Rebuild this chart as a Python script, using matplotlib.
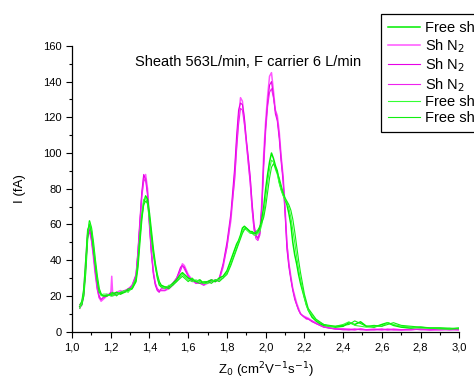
import matplotlib
matplotlib.use("Agg")
import matplotlib.pyplot as plt
from matplotlib.ticker import MultipleLocator, FuncFormatter

plt.rcParams['font.family'] = ['Liberation Sans', 'DejaVu Sans']

# Mobility grid (shared by all scans)
z = [1.04, 1.05, 1.06, 1.07, 1.08, 1.09, 1.10, 1.11, 1.12, 1.13, 1.14, 1.15, 1.16,
     1.18, 1.20, 1.205, 1.21, 1.23, 1.25, 1.27, 1.29, 1.31, 1.33,
     1.34, 1.35, 1.36, 1.37, 1.38, 1.39, 1.40, 1.41, 1.42, 1.43, 1.44, 1.45, 1.46,
     1.48, 1.50, 1.52, 1.54, 1.56, 1.57, 1.58, 1.60, 1.62, 1.64, 1.66, 1.68, 1.70,
     1.72, 1.74, 1.76, 1.78, 1.80, 1.82, 1.84,
     1.85, 1.86, 1.87, 1.88, 1.89, 1.90, 1.91, 1.92, 1.93, 1.94,
     1.95, 1.96, 1.97, 1.98, 1.99, 2.00, 2.01, 2.02, 2.03, 2.04,
     2.05, 2.06, 2.07, 2.08, 2.09, 2.10, 2.11, 2.12, 2.13, 2.14,
     2.15, 2.16, 2.17, 2.18, 2.19, 2.20, 2.21, 2.22,
     2.24, 2.26, 2.28, 2.30, 2.33, 2.36, 2.40, 2.43, 2.46, 2.49,
     2.52, 2.56, 2.60, 2.63, 2.66, 2.70, 2.75, 2.80, 2.85, 2.90, 2.95, 3.00]

# Free sheath scans (green)
free1 = [14, 15, 20, 33, 52, 62, 58, 50, 40, 31, 24, 21, 20,
         20, 21, 20, 21, 22, 21, 22, 23, 24, 28,
         36, 50, 63, 72, 76, 74, 66, 56, 46, 38, 32, 28, 26,
         25, 25, 27, 29, 32, 33, 32, 30, 29, 28, 29, 27, 28, 29, 28, 30, 31, 34, 40, 46,
         49, 51, 54, 58, 59, 58, 57, 56, 56, 55,
         55, 56, 58, 63, 70, 80, 88, 95, 100, 97,
         93, 90, 84, 80, 77, 74, 71, 66, 60, 50,
         43, 38, 32, 27, 23, 19, 15, 12,
         8, 6, 4.5, 3.5, 3, 2.5, 3, 5, 4, 5.5,
         3, 2.5, 4, 5, 3.5, 2.5, 2, 2.5, 2, 2, 1.5, 2]
free2 = [13, 16, 22, 36, 55, 61, 57, 48, 38, 29, 23, 20, 21,
         21, 20, 22, 20, 21, 22, 23, 22, 25, 30,
         40, 54, 66, 74, 75, 71, 62, 52, 43, 36, 31, 27, 25,
         24, 26, 26, 28, 31, 32, 31, 29, 28, 29, 28, 27, 27, 28, 29, 29, 30, 33, 38, 44,
         47, 50, 53, 56, 58, 57, 56, 55, 55, 54,
         54, 55, 56, 60, 66, 75, 84, 91, 96, 95,
         91, 88, 83, 79, 76, 74, 72, 69, 64, 57,
         50, 42, 35, 29, 24, 19, 15, 12,
         9, 6.5, 5, 4, 3, 3, 4, 5.5, 3.5, 3,
         2.5, 3, 3, 5, 4, 3, 2.5, 2, 2, 1.5, 1.5, 2]
free3 = [15, 17, 24, 40, 57, 60, 55, 46, 37, 28, 22, 21, 20,
         20, 21, 21, 22, 20, 22, 22, 24, 24, 29,
         38, 52, 64, 71, 73, 72, 64, 54, 44, 37, 30, 26, 25,
         25, 24, 26, 28, 30, 31, 30, 28, 30, 28, 27, 28, 28, 27, 29, 28, 30, 32, 37, 43,
         46, 49, 52, 55, 57, 58, 57, 56, 55, 55,
         56, 57, 59, 61, 64, 70, 78, 86, 92, 94,
         92, 89, 86, 82, 78, 75, 73, 71, 68, 63,
         56, 48, 40, 33, 27, 21, 17, 13,
         10, 7, 5.5, 4, 3.5, 3, 3.5, 4, 6, 4.5,
         3, 3.5, 3, 4, 5, 3.5, 3, 2.5, 2, 2, 2, 1.5]

# Sheath N2 scans (magenta)
shn1 = [14, 15, 22, 38, 54, 58, 52, 42, 32, 24, 19, 17, 18,
        20, 21, 31, 21, 22, 23, 22, 24, 25, 30,
        42, 58, 75, 86, 88, 80, 62, 46, 34, 27, 24, 23, 23,
        23, 24, 26, 29, 35, 38, 37, 32, 29, 27, 28, 26, 27, 28, 29, 29, 36, 48, 62, 88,
        105, 120, 131, 129, 118, 106, 96, 85, 70, 58,
        53, 53, 56, 72, 100, 118, 132, 143, 145, 135,
        124, 121, 112, 98, 87, 70, 48, 38, 31, 24,
        20, 16, 13, 10, 9, 8.5, 8, 7.5,
        6, 5, 4, 3, 2, 1.5, 1.5, 1.5, 1, 1.5,
        1, 1.5, 1, 1, 1.5, 1, 1, 1.5, 1, 1, 1.5, 1]
shn2 = [13, 15, 20, 35, 52, 57, 53, 44, 34, 25, 20, 18, 19,
        20, 22, 21, 20, 21, 22, 23, 23, 26, 32,
        45, 62, 78, 88, 85, 76, 58, 43, 32, 26, 23, 22, 24,
        24, 25, 27, 30, 36, 37, 36, 31, 28, 28, 27, 27, 28, 28, 28, 30, 38, 50, 66, 92,
        110, 124, 128, 127, 120, 108, 98, 87, 72, 60,
        54, 52, 55, 70, 96, 115, 128, 138, 140, 132,
        122, 118, 108, 95, 84, 66, 46, 36, 29, 23,
        18, 15, 12, 10, 9, 8, 7.5, 7,
        5.5, 4.5, 3.5, 2.5, 2, 1.5, 1, 1, 1.5, 1,
        1, 1, 1.5, 1, 1, 1, 1.5, 1, 1, 1.5, 1, 1]
shn3 = [15, 16, 21, 36, 53, 56, 51, 43, 33, 24, 19, 18, 19,
        21, 20, 22, 21, 22, 21, 23, 24, 26, 31,
        44, 60, 76, 84, 86, 78, 60, 44, 33, 27, 24, 23, 23,
        23, 25, 27, 30, 34, 37, 35, 31, 29, 27, 27, 26, 28, 29, 28, 29, 37, 47, 64, 85,
        102, 116, 125, 124, 116, 106, 94, 83, 68, 57,
        52, 51, 54, 68, 92, 112, 126, 134, 136, 131,
        124, 119, 110, 97, 86, 68, 50, 38, 30, 24,
        19, 15, 12, 10, 9, 8, 7, 7,
        6, 4.5, 3.5, 2.5, 2, 1.5, 1.5, 1, 1, 1.5,
        1, 1, 1, 1.5, 1, 1, 1, 1.5, 1, 1, 1, 1.5]

fig = plt.figure(figsize=(4.74, 3.79), dpi=100)
ax = fig.add_axes([0.152, 0.125, 0.817, 0.754])

# magenta underneath, green on top
l2, = ax.plot(z, shn1, color='#ff55ff', lw=1.1, label='Sh N$_2$')
l3, = ax.plot(z, shn2, color='#e600e6', lw=0.8, label='Sh N$_2$')
l4, = ax.plot(z, shn3, color='#ee22ee', lw=0.8, label='Sh N$_2$')
l1, = ax.plot(z, free1, color='#00ee00', lw=1.1, label='Free sheath')
l5, = ax.plot(z, free2, color='#33ff33', lw=0.8, label='Free sheath')
l6, = ax.plot(z, free3, color='#11ee11', lw=0.8, label='Free sheath')

ax.set_xlim(1.0, 3.0)
ax.set_ylim(0, 160)
ax.xaxis.set_major_locator(MultipleLocator(0.2))
ax.xaxis.set_minor_locator(MultipleLocator(0.1))
ax.yaxis.set_major_locator(MultipleLocator(20))
ax.yaxis.set_minor_locator(MultipleLocator(10))
ax.xaxis.set_major_formatter(FuncFormatter(lambda v, p: f"{v:.1f}".replace('.', ',')))
ax.tick_params(which='major', length=4, width=0.8, labelsize=8, direction='out')
ax.tick_params(which='minor', length=2.5, width=0.8, direction='out')
for s in ['top', 'right']:
    ax.spines[s].set_visible(False)
for s in ['left', 'bottom']:
    ax.spines[s].set_linewidth(0.9)

ax.set_xlabel('Z$_0$ (cm$^2$V$^{-1}$s$^{-1}$)', fontsize=9.5, labelpad=6)
ax.set_ylabel('I (fA)', fontsize=9.5, labelpad=12)
ax.text(0.454, 0.944, 'Sheath 563L/min, F carrier 6 L/min', transform=ax.transAxes,
        ha='center', va='center', fontsize=10.5)

leg = fig.legend([l1, l2, l3, l4, l5, l6],
                 [h.get_label() for h in [l1, l2, l3, l4, l5, l6]],
                 loc='upper left', bbox_to_anchor=(381 / 474, 1 - 14 / 379),
                 fontsize=10.5, frameon=True, fancybox=False, framealpha=1,
                 handlelength=2.2, handletextpad=0.35, labelspacing=0.12,
                 borderpad=0.5, borderaxespad=0)
leg.get_frame().set_edgecolor('black')
leg.get_frame().set_linewidth(0.9)

fig.savefig('out.png', dpi=100)
